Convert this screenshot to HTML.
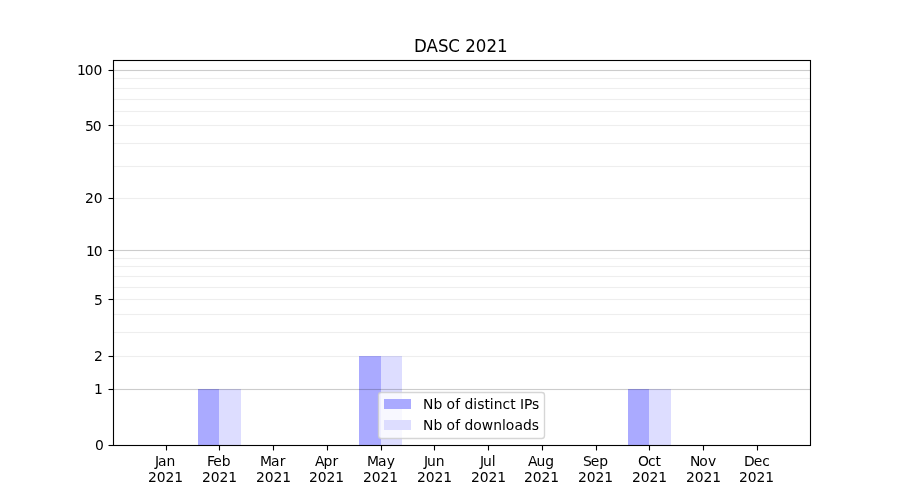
<!DOCTYPE html>
<html lang="en"><head><meta charset="utf-8"><title>DASC 2021</title>
<style>html,body{margin:0;padding:0;background:#fff}body{width:900px;height:500px;overflow:hidden}svg{display:block;will-change:transform}text{font-family:"DejaVu Sans","Liberation Sans",sans-serif;fill:#000}.t{font-size:13.889px}.h{font-size:16.667px}</style></head><body>
<svg width="900" height="500" viewBox="0 0 900 500">
<rect width="900" height="500" fill="#fff"/>
<g shape-rendering="crispEdges">
<rect x="198" y="389" width="21" height="56" fill="#aaaaff"/>
<rect x="219" y="389" width="22" height="56" fill="#ddddff"/>
<rect x="359" y="356" width="22" height="89" fill="#aaaaff"/>
<rect x="381" y="356" width="21" height="89" fill="#ddddff"/>
<rect x="628" y="389" width="21" height="56" fill="#aaaaff"/>
<rect x="649" y="389" width="22" height="56" fill="#ddddff"/>
</g>
<g fill="#000">
<rect x="113" y="69.9380" width="697.5" height="1.124" fill-opacity="0.2"/>
<rect x="113" y="77.9380" width="697.5" height="1.124" fill-opacity="0.0667"/>
<rect x="113" y="87.9380" width="697.5" height="1.124" fill-opacity="0.0667"/>
<rect x="113" y="98.9380" width="697.5" height="1.124" fill-opacity="0.0667"/>
<rect x="113" y="110.9380" width="697.5" height="1.124" fill-opacity="0.0667"/>
<rect x="113" y="124.9380" width="697.5" height="1.124" fill-opacity="0.0667"/>
<rect x="113" y="142.9380" width="697.5" height="1.124" fill-opacity="0.0667"/>
<rect x="113" y="165.9380" width="697.5" height="1.124" fill-opacity="0.0667"/>
<rect x="113" y="197.9380" width="697.5" height="1.124" fill-opacity="0.0667"/>
<rect x="113" y="249.9380" width="697.5" height="1.124" fill-opacity="0.2"/>
<rect x="113" y="257.9380" width="697.5" height="1.124" fill-opacity="0.0667"/>
<rect x="113" y="265.9380" width="697.5" height="1.124" fill-opacity="0.0667"/>
<rect x="113" y="275.9380" width="697.5" height="1.124" fill-opacity="0.0667"/>
<rect x="113" y="286.9380" width="697.5" height="1.124" fill-opacity="0.0667"/>
<rect x="113" y="298.9380" width="697.5" height="1.124" fill-opacity="0.0667"/>
<rect x="113" y="313.9380" width="697.5" height="1.124" fill-opacity="0.0667"/>
<rect x="113" y="331.9380" width="697.5" height="1.124" fill-opacity="0.0667"/>
<rect x="113" y="355.9380" width="697.5" height="1.124" fill-opacity="0.0667"/>
<rect x="113" y="388.9380" width="697.5" height="1.124" fill-opacity="0.2"/>
</g>
<g stroke="#000" stroke-width="1.111" fill="none">
<line x1="166.5" x2="166.5" y1="445.5" y2="450.5"/>
<line x1="219.5" x2="219.5" y1="445.5" y2="450.5"/>
<line x1="273.5" x2="273.5" y1="445.5" y2="450.5"/>
<line x1="327.5" x2="327.5" y1="445.5" y2="450.5"/>
<line x1="381.5" x2="381.5" y1="445.5" y2="450.5"/>
<line x1="434.5" x2="434.5" y1="445.5" y2="450.5"/>
<line x1="488.5" x2="488.5" y1="445.5" y2="450.5"/>
<line x1="542.5" x2="542.5" y1="445.5" y2="450.5"/>
<line x1="596.5" x2="596.5" y1="445.5" y2="450.5"/>
<line x1="649.5" x2="649.5" y1="445.5" y2="450.5"/>
<line x1="703.5" x2="703.5" y1="445.5" y2="450.5"/>
<line x1="757.5" x2="757.5" y1="445.5" y2="450.5"/>
<line x1="108.5" x2="113.5" y1="445.5" y2="445.5"/>
<line x1="108.5" x2="113.5" y1="389.5" y2="389.5"/>
<line x1="108.5" x2="113.5" y1="356.5" y2="356.5"/>
<line x1="108.5" x2="113.5" y1="299.5" y2="299.5"/>
<line x1="108.5" x2="113.5" y1="250.5" y2="250.5"/>
<line x1="108.5" x2="113.5" y1="198.5" y2="198.5"/>
<line x1="108.5" x2="113.5" y1="125.5" y2="125.5"/>
<line x1="108.5" x2="113.5" y1="70.5" y2="70.5"/>
<rect x="113.5" y="60.5" width="697" height="385" stroke-linejoin="miter"/>
</g>
<g>
<text class="t" x="155 158.08 166.6" y="466.28">Jan</text>
<text class="t" x="148.04 156.86 165.43 174.26" y="481.83">2021</text>
<text class="t" x="206.9 213.37 221.65" y="466.28">Feb</text>
<text class="t" x="202.03 210.85 219.42 228.25" y="481.83">2021</text>
<text class="t" x="260.08 271.05 279.8" y="466.28">Mar</text>
<text class="t" x="256.01 264.83 273.4 282.23" y="481.83">2021</text>
<text class="t" x="314.9 323.39 332.45" y="466.28">Apr</text>
<text class="t" x="309 317.82 326.39 335.22" y="481.83">2021</text>
<text class="t" x="367.06 378.02 386.77" y="466.28">May</text>
<text class="t" x="362.99 371.81 380.38 389.21" y="481.83">2021</text>
<text class="t" x="424.04 427.11 435.66" y="466.28">Jun</text>
<text class="t" x="416.97 425.79 434.61 443.19" y="481.83">2021</text>
<text class="t" x="480 483.07 491.87" y="466.28">Jul</text>
<text class="t" x="470.96 479.78 488.6 497.18" y="481.83">2021</text>
<text class="t" x="528.05 536.54 545.33" y="466.28">Aug</text>
<text class="t" x="523.94 532.76 541.58 550.16" y="481.83">2021</text>
<text class="t" x="583.01 590.81 599.36" y="466.28">Sep</text>
<text class="t" x="577.93 586.75 595.57 604.15" y="481.83">2021</text>
<text class="t" x="638.08 647.99 655.38" y="466.28">Oct</text>
<text class="t" x="631.92 640.74 649.56 658.14" y="481.83">2021</text>
<text class="t" x="690.01 699.14 708.12" y="466.28">Nov</text>
<text class="t" x="685.9 694.72 703.54 712.37" y="481.83">2021</text>
<text class="t" x="744.12 753.79 762.34" y="466.28">Dec</text>
<text class="t" x="738.89 747.71 756.53 765.36" y="481.83">2021</text>
</g><g>
<text class="t" x="94.95" y="450.28">0</text>
<text class="t" x="93.95" y="393.93">1</text>
<text class="t" x="93.95" y="360.97">2</text>
<text class="t" x="93.95" y="304.63">5</text>
<text class="t" x="86.12 93.69" y="256.35">10</text>
<text class="t" x="85.12 93.69" y="202.79">20</text>
<text class="t" x="85.12 92.69" y="130.66">50</text>
<text class="t" x="77.05 84.86 93.44" y="75.12">100</text>
</g>
<text class="h" transform="translate(0,52) scale(1,1.08)" x="414.09 426.62 438.01 448.32 460.21 465.26 475.85 486.44 497.04" y="0">DASC 2021</text>
<rect x="378.5" y="392.5" width="166" height="46" rx="2.78" ry="2.78" fill="#fff" fill-opacity="0.8" stroke="#ccc" stroke-opacity="0.8" stroke-width="1.389"/>
<g shape-rendering="crispEdges"><rect x="384" y="399" width="27" height="10" fill="#aaaaff"/><rect x="384" y="420" width="27" height="10" fill="#ddddff"/></g>
<g><text class="t" x="422.99 433.62 442.41 446.58 455.32 460.21 464.62 473.18 477.27 484.51 489.69 493.8 502.6 510.22 515.66 520.07 523.91 532.04" y="409.23">Nb of distinct IPs</text><text class="t" x="422.99 433.62 442.41 446.58 455.32 460.21 464.62 473.18 481.66 493.26 502.05 505.66 514.4 522.9 531.71" y="429.61">Nb of downloads</text></g>
</svg></body></html>
